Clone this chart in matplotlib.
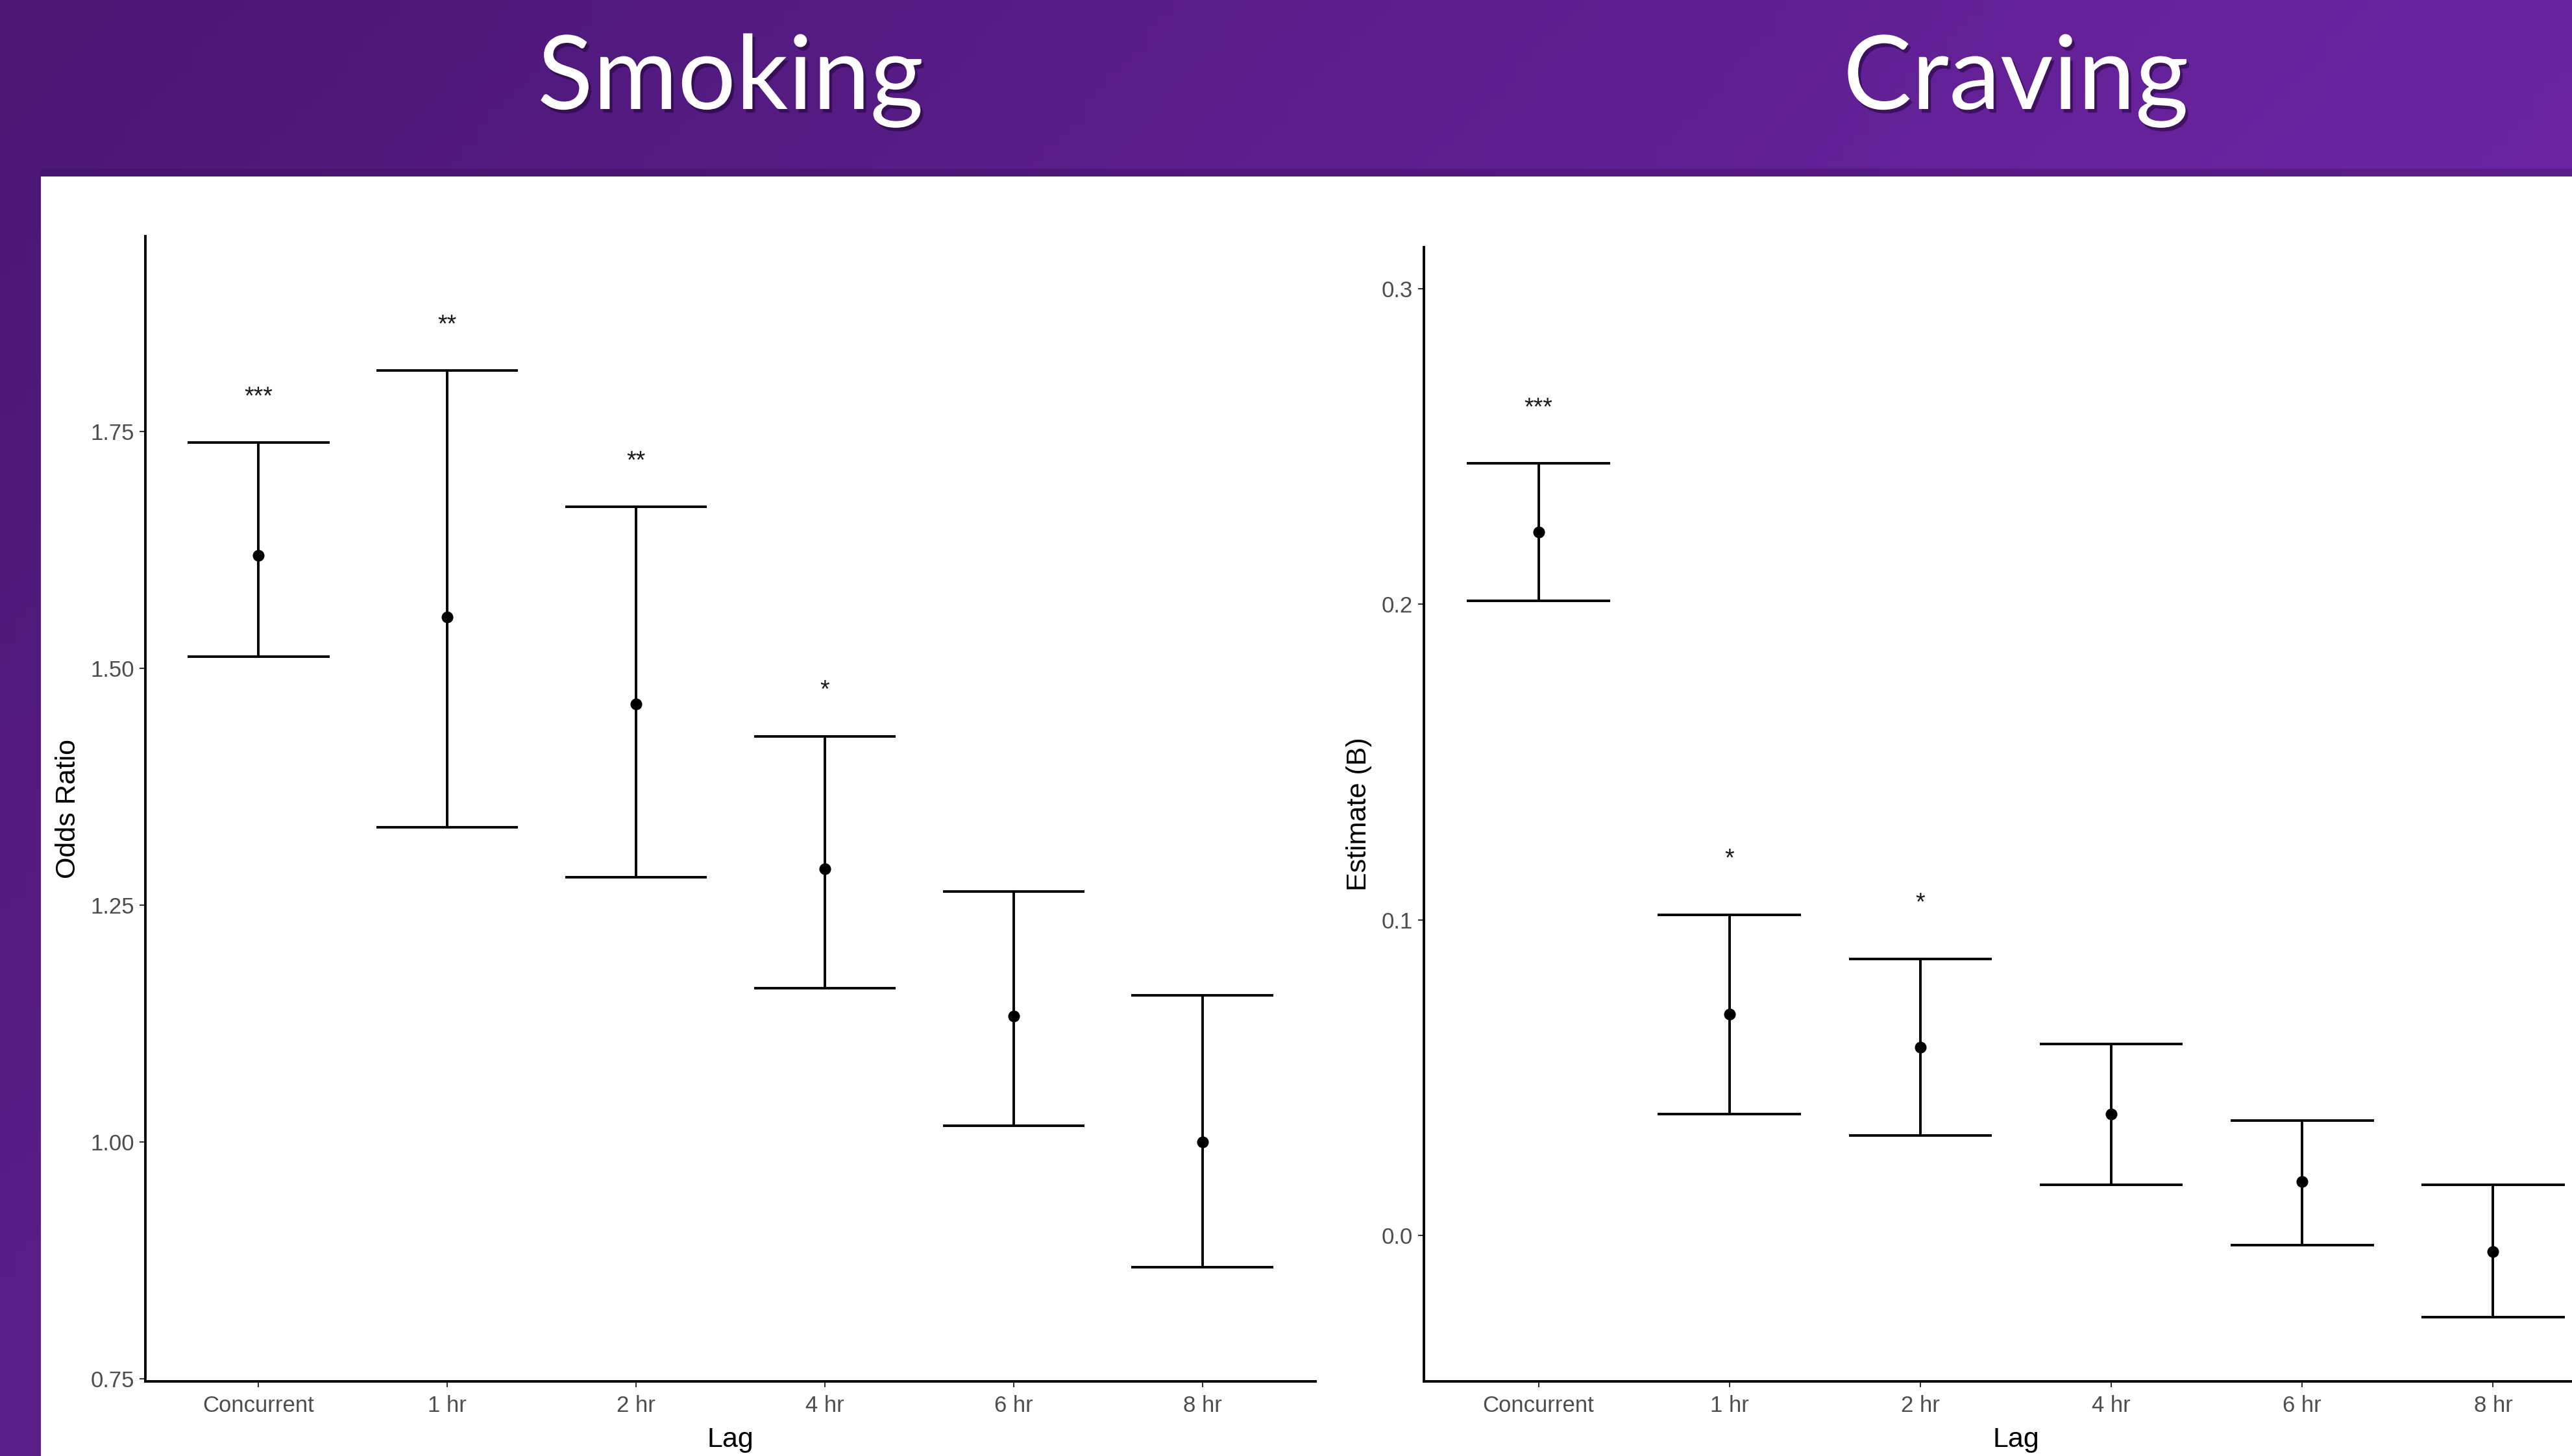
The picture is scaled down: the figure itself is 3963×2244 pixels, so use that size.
import numpy as np
import matplotlib

matplotlib.use("Agg")
import matplotlib.pyplot as plt
import matplotlib.patheffects as pe
from matplotlib.patches import Rectangle

# Lag categories, shared by both panels
lags = ["Concurrent", "1 hr", "2 hr", "4 hr", "6 hr", "8 hr"]

# Smoking: odds ratio with 95% CI
smoking_or = [1.619, 1.554, 1.462, 1.288, 1.133, 1.000]
smoking_lo = [1.512, 1.332, 1.279, 1.162, 1.017, 0.868]
smoking_hi = [1.738, 1.814, 1.670, 1.428, 1.264, 1.155]
smoking_sig = ["***", "**", "**", "*", "", ""]

# Craving: estimate (B) with 95% CI
craving_b = [0.2228, 0.0700, 0.0597, 0.0384, 0.0171, -0.0052]
craving_lo = [0.2010, 0.0384, 0.0317, 0.0161, -0.0031, -0.0260]
craving_hi = [0.2446, 0.1016, 0.0876, 0.0607, 0.0363, 0.0161]
craving_sig = ["***", "*", "*", "", "", ""]

W, H = 3963, 2244
DPI = 100
LW = 2.8
TICK_COLOR = "#4d4d4d"
SANS = ["Liberation Sans", "DejaVu Sans"]

fig = plt.figure(figsize=(W / DPI, H / DPI), dpi=DPI)

# purple gradient backdrop
bg = fig.add_axes([0, 0, 1, 1], zorder=-10)
bg.set_axis_off()
c0 = np.array([0x4A, 0x17, 0x74]) / 255
cx = np.array([0x6B, 0x24, 0xA1]) / 255 - c0
cy = np.array([0x5A, 0x1E, 0x8A]) / 255 - c0
gx, gy = np.meshgrid(np.linspace(0, 1, 200), np.linspace(0, 1, 120))
grad = c0 + gx[..., None] * cx + gy[..., None] * cy
bg.imshow(np.clip(grad, 0, 1), extent=[0, 1, 0, 1], aspect="auto", origin="upper")
bg.set_xlim(0, 1)
bg.set_ylim(0, 1)

# white slide panel with a soft shadow above it
panel_x, panel_top = 63 / W, 1 - 272 / H
bg.add_patch(Rectangle((panel_x, panel_top), 1, 12 / H, color="#3a0f5e", alpha=0.35, lw=0))
bg.add_patch(Rectangle((panel_x, 0), 1, panel_top, color="white", lw=0))


def draw_panel(rect, est, lo, hi, sig, ylim, yticks, fmt, ylabel, ylabel_x, star_off, title):
    ax = fig.add_axes(rect)
    x = np.arange(len(lags))
    ax.vlines(x, lo, hi, color="black", lw=LW)
    ax.hlines(lo, x - 0.375, x + 0.375, color="black", lw=LW)
    ax.hlines(hi, x - 0.375, x + 0.375, color="black", lw=LW)
    ax.plot(x, est, "o", color="black", markersize=12)
    for xi, h, s in zip(x, hi, sig):
        if s:
            ax.text(xi, h + star_off, s, ha="center", va="center",
                    fontsize=27, family=SANS, color="#1a1a1a")

    ax.set_xlim(-0.6, 5.6)
    ax.set_ylim(*ylim)
    ax.set_xticks(x)
    ax.set_xticklabels(lags)
    ax.set_yticks(yticks)
    ax.set_yticklabels([fmt.format(v) for v in yticks])
    for lab in ax.get_xticklabels() + ax.get_yticklabels():
        lab.set_family(SANS)
    ax.tick_params(axis="both", length=6.5, width=1.5, color="#333333",
                   labelcolor=TICK_COLOR, labelsize=25)
    ax.tick_params(axis="x", pad=9)
    ax.tick_params(axis="y", pad=6)

    for side in ("top", "right"):
        ax.spines[side].set_visible(False)
    for side in ("left", "bottom"):
        ax.spines[side].set_linewidth(LW)
        ax.spines[side].set_color("black")

    ax.set_xlabel("Lag", fontsize=31, family=SANS, color="black")
    ax.xaxis.set_label_coords(0.5, -0.040)
    ax.set_ylabel(ylabel, fontsize=31, family=SANS, color="black")
    ax.yaxis.set_label_coords(ylabel_x, 0.5)

    cx_fig = rect[0] + rect[2] / 2
    fig.text(cx_fig, 1 - 168 / H, title, ha="center", va="baseline",
             fontsize=114, family=["Lato", "DejaVu Sans"], color="white",
             path_effects=[pe.withSimplePatchShadow(offset=(3, -4),
                                                    shadow_rgbFace="#1e0533",
                                                    alpha=0.55)])
    return ax


left_rect = [224 / W, 1 - 2128.6 / H, (2027 - 224) / W, (2128.6 - 364.5) / H]
right_rect = [2194 / W, 1 - 2128.6 / H, (4018 - 2194) / W, (2128.6 - 380.6) / H]

draw_panel(left_rect, smoking_or, smoking_lo, smoking_hi, smoking_sig,
           (0.7475, 1.9555), [0.75, 1.00, 1.25, 1.50, 1.75], "{:.2f}",
           "Odds Ratio", -0.055, 0.048, "Smoking")
draw_panel(right_rect, craving_b, craving_lo, craving_hi, craving_sig,
           (-0.0462, 0.3132), [0.0, 0.1, 0.2, 0.3], "{:.1f}",
           "Estimate (B)", -0.044, 0.0175, "Craving")

fig.savefig("out.png", dpi=DPI)
